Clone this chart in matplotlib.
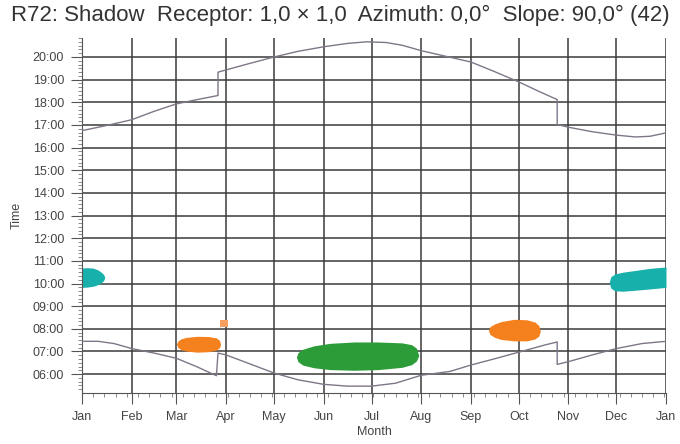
import matplotlib
matplotlib.use("Agg")
import matplotlib.pyplot as plt
from matplotlib.ticker import FuncFormatter, MultipleLocator

plt.rcParams['font.family'] = ['Liberation Sans', 'DejaVu Sans']

months = ['Jan', 'Feb', 'Mar', 'Apr', 'May', 'Jun', 'Jul', 'Aug', 'Sep', 'Oct', 'Nov', 'Dec', 'Jan']
month_start = [0, 31, 59, 90, 120, 151, 181, 212, 243, 273, 304, 334, 365]

# sunset (hours); DST jumps at day 85 and 297
sunset_day = [0, 15, 31, 45, 59, 72, 85, 85, 90, 105, 120, 135, 151, 166, 178, 190, 200, 212,
              228, 243, 258, 273, 285, 297, 297, 304, 319, 334, 346, 355, 365]
sunset_hr = [16.75, 16.97, 17.23, 17.6, 17.93, 18.12, 18.3, 19.33, 19.43, 19.72, 20.0, 20.25,
             20.45, 20.6, 20.67, 20.64, 20.52, 20.28, 20.02, 19.78, 19.35, 18.9, 18.5, 18.12,
             17.02, 16.9, 16.7, 16.55, 16.47, 16.5, 16.65]

# sunrise (hours), lower curve
sunrise_day = [0, 10, 20, 31, 45, 59, 72, 84, 85, 90, 105, 120, 135, 151, 166, 181, 196, 212,
               230, 243, 258, 273, 290, 297, 297, 304, 319, 334, 350, 365]
sunrise_hr = [7.45, 7.45, 7.35, 7.13, 6.93, 6.7, 6.32, 5.93, 6.93, 6.85, 6.45, 6.05, 5.75,
              5.55, 5.47, 5.47, 5.6, 5.95, 6.12, 6.4, 6.68, 6.97, 7.3, 7.42, 6.43, 6.55, 6.85,
              7.13, 7.35, 7.45]

# shadow periods: outline as day / lower time / upper time
blob_days = {
    'jan': [0, 3, 7, 10, 12, 13.5, 14.3],
    'mar': [59, 60, 62, 65, 72, 79, 84, 86, 86.6],
    'apr': [86.5, 91],
    'jun': [134, 135, 138, 145, 155, 170, 185, 200, 206, 209, 210.5],
    'oct': [254, 255, 258, 262, 270, 278, 283, 285.5, 286.5],
    'dec': [329.5, 330.5, 333, 338, 345, 355, 365],
}
blob_low = {
    'jan': [9.83, 9.84, 9.88, 9.95, 10.03, 10.13, 10.27],
    'mar': [7.32, 7.17, 7.08, 7.02, 6.97, 6.99, 7.06, 7.18, 7.32],
    'apr': [8.07, 8.07],
    'jun': [6.75, 6.55, 6.4, 6.28, 6.2, 6.17, 6.2, 6.3, 6.42, 6.58, 6.82],
    'oct': [7.93, 7.75, 7.62, 7.53, 7.47, 7.47, 7.55, 7.68, 7.9],
    'dec': [10.05, 9.8, 9.68, 9.66, 9.7, 9.76, 9.83],
}
blob_high = {
    'jan': [10.68, 10.7, 10.68, 10.6, 10.5, 10.4, 10.27],
    'mar': [7.32, 7.47, 7.56, 7.62, 7.67, 7.66, 7.6, 7.48, 7.32],
    'apr': [8.38, 8.38],
    'jun': [6.75, 6.95, 7.1, 7.25, 7.36, 7.42, 7.42, 7.38, 7.3, 7.15, 6.82],
    'oct': [7.93, 8.1, 8.22, 8.32, 8.42, 8.4, 8.3, 8.15, 7.9],
    'dec': [10.05, 10.3, 10.42, 10.5, 10.57, 10.67, 10.73],
}
blob_color = {'jan': '#17b0ab', 'mar': '#f5801e', 'apr': '#f5a060',
              'jun': '#2c9c38', 'oct': '#f5801e', 'dec': '#17b0ab'}


def fmt_time(v, pos):
    return '%02d:00' % int(round(v))


fig = plt.figure(figsize=(6.8, 4.44), dpi=100)
ax = fig.add_axes([0.1206, 0.115, 0.8588, 0.7995])

for key in blob_days:
    ax.fill_between(blob_days[key], blob_low[key], blob_high[key],
                    color=blob_color[key], lw=0, zorder=2)

ax.plot(sunset_day, sunset_hr, color='#7f7688', lw=1.0, zorder=3)
ax.plot(sunrise_day, sunrise_hr, color='#7f7688', lw=1.0, zorder=3)

ax.set_xlim(0, 365)
ax.set_ylim(5.17, 20.84)
ax.set_xticks(month_start)
ax.set_xticklabels(months)
ax.xaxis.set_minor_locator(MultipleLocator(7))
ax.set_yticks(range(6, 21))
ax.yaxis.set_major_formatter(FuncFormatter(fmt_time))
ax.yaxis.set_minor_locator(MultipleLocator(1 / 6))

ax.grid(True, which='major', color='#3a3a3a', lw=1.1, zorder=1)
ax.set_axisbelow(True)
for side in ['top', 'right']:
    ax.spines[side].set_visible(False)
ax.spines['left'].set_color('#555555')
ax.spines['bottom'].set_color('#555555')
ax.tick_params(which='major', length=8, color='#555555', labelsize=9, labelcolor='#444444', pad=5)
ax.tick_params(which='minor', length=3, color='#777777')

ax.set_xlabel('Month', fontsize=9, color='#444444', labelpad=2)
ax.set_ylabel('Time', fontsize=9, color='#444444', labelpad=7)
fig.text(0.5, 0.988, 'R72: Shadow  Receptor: 1,0 \u00d7 1,0  Azimuth: 0,0\u00b0  Slope: 90,0\u00b0 (42)',
         ha='center', va='top', fontsize=16, color='#333333')

fig.savefig('out.png', dpi=100)
